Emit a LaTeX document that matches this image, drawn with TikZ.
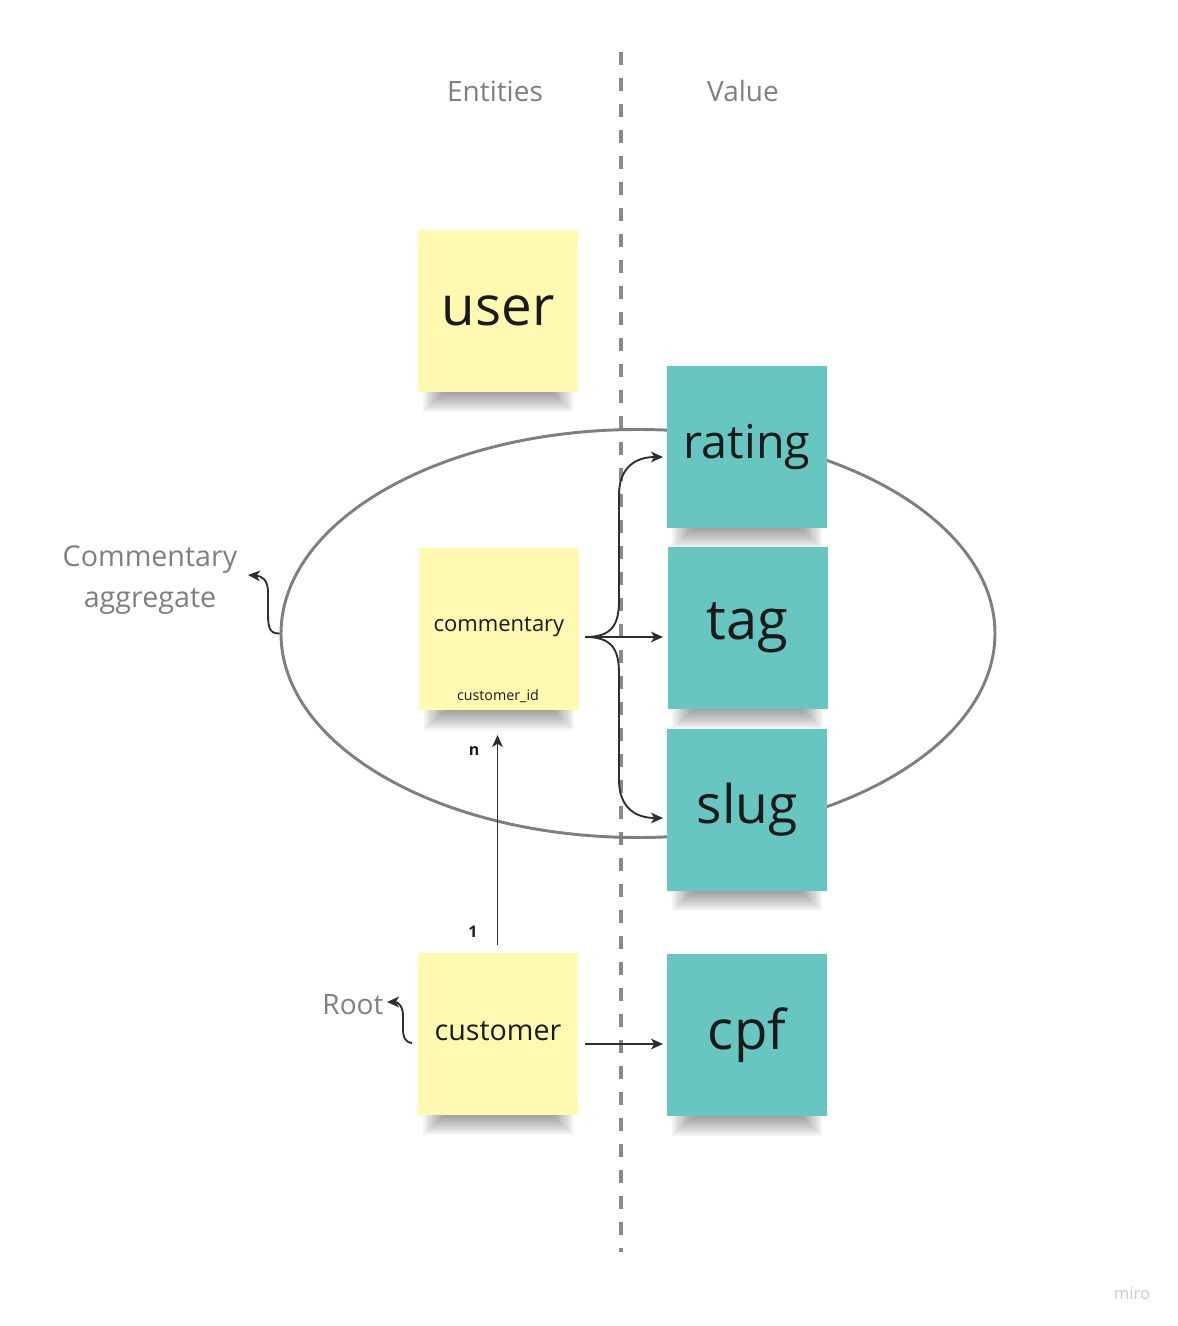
\documentclass[tikz,border=0pt]{standalone}
\usepackage{fontspec}
\setmainfont{Open Sans}
\usetikzlibrary{arrows.meta,shapes.geometric,calc}
\definecolor{sticky}{HTML}{FFF9B1}
\definecolor{teal}{HTML}{67C6C0}
\definecolor{ink}{HTML}{1A1A1A}
\definecolor{lbl}{HTML}{7F7F7F}
\definecolor{dashgray}{HTML}{8A8A8A}
\definecolor{arr}{HTML}{2E2E2E}
\definecolor{mirogray}{HTML}{C9C9D6}
\pgfdeclarelayer{background}
\pgfsetlayers{background,main}
\tikzset{
  note/.style={minimum width=120pt, minimum height=121.5pt, inner sep=0pt, text=ink},
  yellownote/.style={note, fill=sticky},
  tealnote/.style={note, fill=teal},
  graylabel/.style={text=lbl, font=\fontsize{21}{30}\selectfont, inner sep=0pt},
  conn/.style={draw=arr, line width=1.4pt, -{Stealth[length=9pt,width=8pt,inset=2.5pt]}},
}
\begin{document}
\begin{tikzpicture}[x=0.75pt,y=-0.75pt]
\useasboundingbox (0,0) rectangle (1177,1326);

% dashed divider
\coordinate (dtop) at (621,52);
\coordinate (dbot) at (621,1252);
\draw[draw=dashgray, line width=2.4pt, dash pattern=on 9.75pt off 9.75pt] (dtop) -- (dbot);

% column headers
\node[graylabel] (ent) at (495,91) {Entities};
\node[graylabel] (val) at (743,91) {Value};

% aggregate ellipse
\node[ellipse, draw=lbl, line width=2.2pt, minimum width=535.5pt, minimum height=306pt, inner sep=0pt] (agg) at (638,633.5) {};

% stickies
\node[yellownote, font=\fontsize{41}{45}\selectfont] (user) at (498,311) {user};
\node[tealnote, font=\fontsize{35}{40}\selectfont] (rating) at (747,447) {rating};
\node[tealnote, font=\fontsize{42}{46}\selectfont] (tag) at (747.5,627.5) {tag};
\node[tealnote, font=\fontsize{40}{44}\selectfont] (slug) at (747,809.5) {slug};
\node[tealnote, font=\fontsize{41}{45}\selectfont] (cpf) at (747,1035) {cpf};
\node[yellownote] (comm) at (499,629) {};
\node[text=ink, font=\fontsize{16.5}{20}\selectfont, inner sep=0pt] (commt) at (499,627) {commentary};
\node[text=ink, font=\fontsize{10.7}{13}\selectfont, inner sep=0pt] (cid) at (498,696) {customer\_id};
\node[yellownote, font=\fontsize{21.5}{26}\selectfont] (cust) at (498,1034) {};
\node[text=ink, font=\fontsize{21.5}{26}\selectfont, inner sep=0pt] (custt) at (498,1031) {customer};

% shadows
\begin{pgfonlayer}{background}
\foreach \n in {user,rating,tag,slug,cpf,comm,cust}{
  \foreach \i in {0,...,9}{
    \fill[black, opacity=0.045] ($(\n.south west)+(5+2.2*\i,-10)$) rectangle ($(\n.south east)+(-5-2.2*\i,20-2*\i)$);
  }
}
\end{pgfonlayer}

% side labels
\node[graylabel, align=center, font=\fontsize{21.5}{31}\selectfont] (aggl) at (150,580) {Commentary\\aggregate};
\node[graylabel] (root) at (353,1005) {Root};

% connectors
\coordinate (aggtip) at (248,575);
\draw[conn] (agg.west) .. controls (268,634) and (268,625) .. (268,610) -- (268,592) .. controls (268,580) and (262,576) .. (aggtip);

\coordinate (rootstart) at (412,1043);
\coordinate (roottip) at (387,1002);
\draw[conn] (rootstart) .. controls (404,1042) and (403,1036) .. (403,1028) -- (403,1016) .. controls (403,1006) and (398,1002) .. (roottip);

\coordinate (cs) at (585,637);
\coordinate (rt) at (663,457);
\coordinate (tt) at (663,637);
\coordinate (st) at (663,818);
\draw[conn] (cs) -- (tt);
\draw[conn] (cs) .. controls (612,637) and (619,625) .. (619,600) -- (619,495) .. controls (619,468) and (635,457) .. (rt);
\draw[conn] (cs) .. controls (612,637) and (619,649) .. (619,674) -- (619,780) .. controls (619,807) and (635,818) .. (st);

\coordinate (cus) at (585,1044);
\coordinate (cpft) at (663,1044);
\draw[conn] (cus) -- (cpft);

\coordinate (up0) at (497.5,945);
\coordinate (up1) at (497.5,735);
\draw[conn] (up0) -- (up1);
\node[text=ink, font=\bfseries\fontsize{12}{14}\selectfont, inner sep=0pt] (one) at (473,932) {1};
\node[text=ink, font=\bfseries\fontsize{12}{14}\selectfont, inner sep=0pt] (nn) at (474,751) {n};

\node[text=mirogray, font=\fontsize{12.5}{14}\selectfont, inner sep=0pt] (miro) at (1132,1293) {miro};
\end{tikzpicture}
\end{document}
